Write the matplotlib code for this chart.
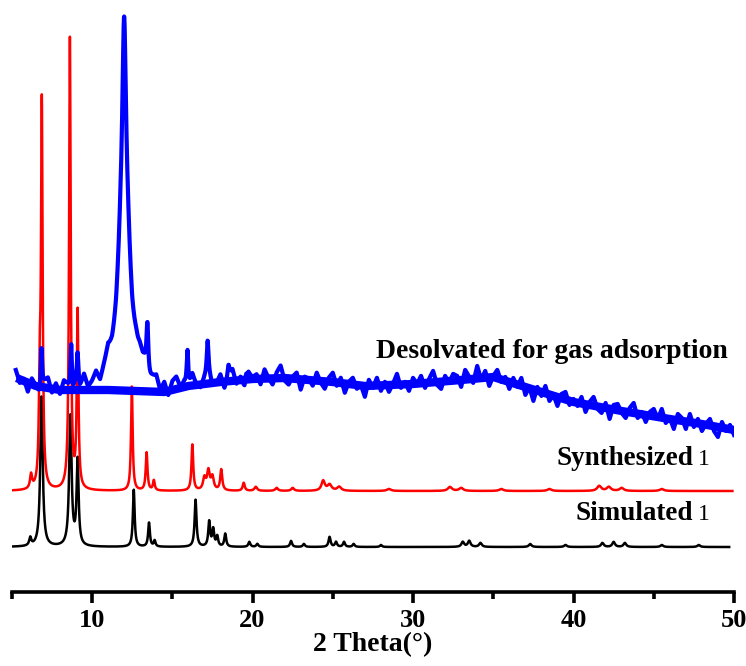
import numpy as np
import matplotlib.pyplot as plt

# PXRD patterns, intensity in arbitrary units (stacked)
# simulated 1: peak positions (2theta), heights, widths
sim_pos = [6.15, 6.85, 8.65, 9.1, 12.6, 13.55, 13.9, 16.45, 17.3, 17.55, 17.8, 18.3,
           19.8, 20.3, 22.4, 23.2, 24.8, 25.2, 25.7, 26.3, 28.0, 33.1, 33.5, 34.2,
           37.3, 39.5, 41.8, 42.5, 43.2, 45.5, 47.8]
sim_height = [8, 150, 130, 85, 57, 24, 6, 47, 25, 17, 10, 13,
              5, 3, 6, 3, 10, 5, 5, 3, 2, 5, 6, 4,
              3, 2, 4, 5, 4, 2, 2]
sim_width = [0.15, 0.18, 0.18, 0.15, 0.13, 0.13, 0.13, 0.14, 0.14, 0.14, 0.14, 0.14,
             0.15, 0.15, 0.15, 0.15, 0.15, 0.15, 0.15, 0.15, 0.15, 0.2, 0.2, 0.2,
             0.2, 0.2, 0.2, 0.2, 0.2, 0.2, 0.2]
sim_base = 57

# synthesized 1
syn_pos = [6.2, 6.74, 6.87, 8.62, 9.1, 12.48, 13.4, 13.85, 16.25, 17.0, 17.25, 17.5,
           18.05, 19.45, 20.2, 21.5, 22.5, 24.4, 24.8, 25.4, 28.5, 32.3, 33.0, 35.5,
           38.5, 41.6, 42.2, 43.0, 45.5]
syn_height = [14, 90, 380, 451, 176, 104, 38, 10, 46, 12, 19, 13,
              21, 8, 4, 3, 3, 10, 6, 4, 2, 4, 3, 2,
              2, 5, 4, 3, 2]
syn_width = [0.15, 0.12, 0.12, 0.12, 0.12, 0.12, 0.13, 0.13, 0.13, 0.2, 0.2, 0.2,
             0.15, 0.15, 0.2, 0.2, 0.2, 0.25, 0.3, 0.3, 0.3, 0.3, 0.3, 0.3,
             0.3, 0.3, 0.3, 0.3, 0.3]
syn_base = 113

# desolvated: broad background trend
des_trend_angle = [5.3, 6.5, 8, 11, 14.5, 16, 18, 20, 22, 25, 27, 30, 33, 35,
                   37, 40, 43, 46, 48, 50]
des_trend = [226, 218, 214, 214, 212, 218, 222, 225, 226, 222, 218, 220, 224, 227,
             217, 202, 193, 185, 180, 174]
# desolvated: noisy counts sampled every 0.25 deg from 5.25 to 50
des_counts = [
    233, 220, 224, 211, 224, 216, 207, 220, 224, 209,
    218, 207, 220, 215, 203, 219, 211, 223, 209, 213,
    220, 207, 217, 225, 211, 207, 217, 212, 218, 207,
    215, 208, 217, 204, 213, 218, 205, 215, 203, 218,
    223, 213, 218, 212, 227, 217, 214, 224, 231, 217,
    219, 228, 214, 226, 233, 219, 226, 215, 230, 226,
    229, 219, 234, 225, 219, 231, 238, 223, 219, 227,
    231, 214, 227, 225, 218, 231, 221, 215, 226, 231,
    218, 226, 211, 222, 226, 215, 219, 207, 224, 216,
    226, 213, 222, 212, 220, 230, 216, 222, 213, 226,
    220, 228, 216, 225, 233, 219, 215, 228, 221, 230,
    228, 217, 234, 227, 221, 238, 224, 233, 218, 228,
    234, 222, 227, 215, 226, 217, 226, 209, 217, 203,
    217, 208, 218, 203, 209, 198, 210, 212, 199, 205,
    198, 207, 192, 202, 207, 195, 191, 201, 185, 199,
    200, 191, 186, 196, 201, 186, 192, 182, 192, 195,
    185, 195, 181, 186, 175, 190, 186, 175, 190, 177,
    185, 173, 180, 185, 173, 167, 182, 173, 179, 169]
des_pos = [6.85, 8.7, 9.1, 12.0, 12.0, 13.0, 13.45, 15.95, 17.2, 18.5, 19.6]
des_height = [42, 50, 30, 200, 175, 15, 55, 38, 32, 12, 8]
des_width = [0.1, 0.1, 0.1, 0.9, 0.25, 0.3, 0.15, 0.12, 0.12, 0.15, 0.15]

xticks = [10, 20, 30, 40, 50]
labels = ['Desolvated for gas adsorption', 'Synthesized', 'Simulated']


def pattern(x, pos, height, width):
    y = np.zeros_like(x)
    for p, h, w in zip(pos, height, width):
        y += h / (1 + ((x - p) / (w / 2)) ** 2)
    return y


plt.rcParams['font.family'] = ['Liberation Serif', 'DejaVu Serif']
plt.rcParams['font.weight'] = 'bold'

W, H = 746, 666
fig = plt.figure(figsize=(W / 100, H / 100), dpi=100)
ax = fig.add_axes([11.8 / W, (H - 592) / H, 722.2 / W, 592 / H])

x_sim = np.linspace(5.0, 49.7, 4471)
ax.plot(x_sim, sim_base + pattern(x_sim, sim_pos, sim_height, sim_width),
        color='black', lw=1.8)

x_syn = np.linspace(5.05, 49.9, 4486)
ax.plot(x_syn, syn_base + pattern(x_syn, syn_pos, syn_height, syn_width),
        color='#ff0000', lw=1.8)

# desolvated: solid noise core along the trend, spiky counts and peaks on top
ax.plot(des_trend_angle, des_trend, color='#0000ff', lw=6, solid_capstyle='butt')
des_angle = 5.25 + 0.25 * np.arange(len(des_counts))
x_des = np.linspace(5.25, 50.0, 4476)
bg_des = np.interp(x_des, des_angle, des_counts)
ax.plot(x_des, bg_des + pattern(x_des, des_pos, des_height, des_width),
        color='#0000ff', lw=3.0, solid_joinstyle='round')

# curve labels
fig.text(376 / W, 1 - 358 / H, labels[0], fontsize=20, ha='left', va='baseline')
fig.text(693 / W, 1 - 465 / H, labels[1], fontsize=19.5, ha='right', va='baseline')
fig.text(693 / W, 1 - 520 / H, labels[2], fontsize=19.5, ha='right', va='baseline')
for yb in [465, 520]:
    fig.text(698 / W, 1 - yb / H, '1', fontsize=17, fontweight='normal',
             ha='left', va='baseline')

ax.set_xlim(5, 50)
ax.set_ylim(12, 604)
ax.set_xticks(xticks)
ax.set_xticks([5, 15, 25, 35, 45], minor=True)
ax.tick_params(axis='x', which='major', direction='out', length=8, width=2.6,
               labelsize=19, pad=4)
ax.tick_params(axis='x', which='minor', direction='out', length=5, width=2.6)
ax.set_yticks([])
for s in ['left', 'right', 'top']:
    ax.spines[s].set_visible(False)
ax.spines['bottom'].set_linewidth(2.6)
ax.set_xlabel('2 Theta(°)', fontsize=20, fontweight='bold', labelpad=0)

plt.savefig('out.png', dpi=100)
